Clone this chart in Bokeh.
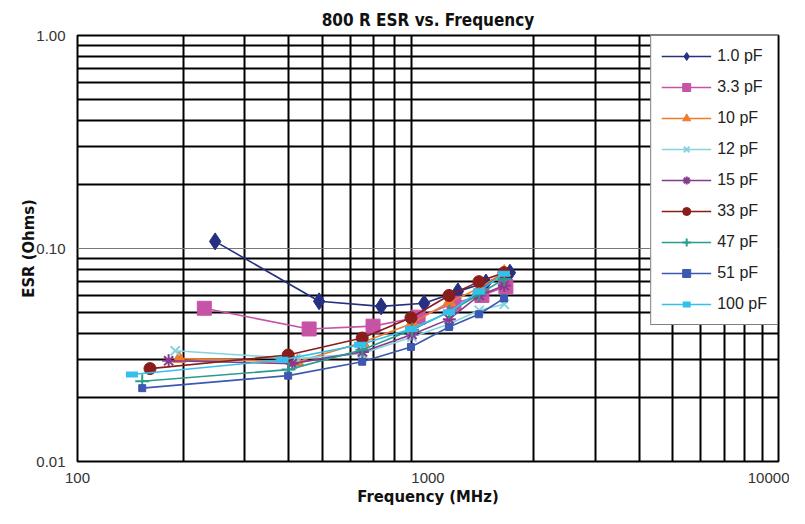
from bokeh.plotting import figure
from bokeh.models import FixedTicker, PrintfTickFormatter, Legend, LegendItem, Range1d
from bokeh.embed import file_html
from bokeh.resources import INLINE

# ---- data ----
series_names = ["1.0 pF", "3.3 pF", "10 pF", "12 pF", "15 pF", "33 pF", "47 pF", "51 pF", "100 pF"]

freq_1p0 = [247, 489, 735, 975, 1217, 1463, 1713]
esr_1p0 = [0.108, 0.0565, 0.0535, 0.0553, 0.0629, 0.0692, 0.0770]

freq_3p3 = [230, 458, 697, 937, 1186, 1425, 1668]
esr_3p3 = [0.0524, 0.0419, 0.0432, 0.0476, 0.0553, 0.0602, 0.0663]

freq_10 = [195, 424, 650, 900, 1150, 1400, 1650]
esr_10 = [0.0304, 0.0294, 0.0362, 0.0445, 0.0560, 0.0650, 0.0775]

freq_12 = [190, 420, 650, 900, 1150, 1400, 1650]
esr_12 = [0.0331, 0.0304, 0.0321, 0.0384, 0.0442, 0.0513, 0.0547]

freq_15 = [182, 410, 650, 900, 1150, 1400, 1650]
esr_15 = [0.0297, 0.0288, 0.0327, 0.0395, 0.0466, 0.0602, 0.0670]

freq_33 = [161, 399, 649, 894, 1148, 1397, 1647]
esr_33 = [0.0273, 0.0316, 0.0380, 0.0473, 0.0602, 0.0699, 0.0770]

freq_47 = [153, 400, 650, 900, 1150, 1400, 1650]
esr_47 = [0.0238, 0.0270, 0.0335, 0.0415, 0.0505, 0.0610, 0.0720]

freq_51 = [153, 399, 649, 894, 1148, 1397, 1647]
esr_51 = [0.0221, 0.0253, 0.0294, 0.0345, 0.0428, 0.0491, 0.0583]

freq_100 = [143, 384, 640, 894, 1148, 1397, 1647]
esr_100 = [0.0256, 0.0300, 0.0353, 0.0419, 0.0502, 0.0629, 0.0762]

x_tick_labels = [100, 1000, 10000]
y_tick_labels = [0.01, 0.10, 1.00]

# ---- styling ----
colors = ["#262f80", "#c653a6", "#f07a2e", "#86d3e0", "#873b8c",
          "#8a1c1c", "#2a9c8c", "#3c58b0", "#34c0ec"]
markers = ["diamond", "square", "triangle", "x", "asterisk",
           "circle", "cross", "square", "dash"]
sizes = [17, 14, 13, 13, 13, 12, 14, 7, 12]

freqs = [freq_1p0, freq_3p3, freq_10, freq_12, freq_15, freq_33, freq_47, freq_51, freq_100]
esrs = [esr_1p0, esr_3p3, esr_10, esr_12, esr_15, esr_33, esr_47, esr_51, esr_100]

COND = "'DejaVu Sans Condensed', 'Liberation Sans', sans-serif"
REG = "'Liberation Sans', Arial, sans-serif"

p = figure(width=789, height=508, x_axis_type="log", y_axis_type="log",
           x_range=Range1d(100, 10000), y_range=Range1d(0.01, 1.0),
           output_backend="svg", toolbar_location=None,
           min_border_left=77, min_border_right=11, min_border_top=35, min_border_bottom=40,
           title="800 R ESR vs. Frequency")

p.title.align = "center"
p.title.text_font = COND
p.title.text_font_size = "17px"
p.title.text_font_style = "bold"
p.title.text_color = "#111111"
p.title.standoff = 12
p.title.offset = 0

minor_x = [m * 10 ** k for k in (2, 3) for m in range(2, 10)]
minor_y = [m * 10.0 ** k for k in (-2, -1) for m in range(2, 10)]

p.xaxis.ticker = FixedTicker(ticks=x_tick_labels, minor_ticks=minor_x)
p.yaxis.ticker = FixedTicker(ticks=y_tick_labels, minor_ticks=minor_y)
p.xaxis.formatter = PrintfTickFormatter(format="%d")
p.yaxis.formatter = PrintfTickFormatter(format="%.2f")

for ax in (p.xaxis, p.yaxis):
    ax.axis_line_color = None
    ax.major_tick_line_color = None
    ax.minor_tick_line_color = None
    ax.major_label_text_font = REG
    ax.major_label_text_font_size = "15px"
    ax.major_label_text_color = "#333333"
    ax.axis_label_text_font = COND
    ax.axis_label_text_font_style = "bold"
    ax.axis_label_text_font_size = "16.5px"
    ax.axis_label_text_color = "#111111"

p.xaxis.axis_label = "Frequency (MHz)"
p.yaxis.axis_label = "ESR (Ohms)"
p.xaxis.major_label_standoff = 5
p.xaxis.axis_label_standoff = 1
p.yaxis.major_label_standoff = 6
p.yaxis.axis_label_standoff = -5

p.xgrid.grid_line_color = None
p.xgrid.minor_grid_line_color = "black"
p.xgrid.minor_grid_line_width = 2
p.ygrid.grid_line_color = "#777777"
p.ygrid.grid_line_width = 1
p.ygrid.minor_grid_line_color = "black"
p.ygrid.minor_grid_line_width = 2

p.outline_line_color = "black"
p.outline_line_width = 2
p.background_fill_color = "white"
p.border_fill_color = "white"

items = []
for name, f, e, c, m, s in zip(series_names, freqs, esrs, colors, markers, sizes):
    r_line = p.line(f, e, line_color=c, line_width=1.6)
    if m == "dash":
        r_pt = p.scatter(f, e, marker=m, size=s, line_color=c, line_width=6)
    elif m in ("x", "asterisk", "cross"):
        r_pt = p.scatter(f, e, marker=m, size=s, line_color=c, line_width=2)
    else:
        r_pt = p.scatter(f, e, marker=m, size=s, fill_color=c, line_color=c)
    items.append(LegendItem(label=name, renderers=[r_line, r_pt]))

legend = Legend(items=items, location="top_right")
legend.margin = 0
legend.padding = 10
legend.spacing = 11
legend.glyph_width = 50
legend.glyph_height = 20
legend.label_height = 20
legend.label_standoff = 6
legend.label_text_font = REG
legend.label_text_font_size = "16px"
legend.label_text_color = "#222222"
legend.border_line_color = "black"
legend.border_line_width = 1.5
legend.background_fill_color = "white"
legend.background_fill_alpha = 1.0
p.add_layout(legend, "center")

open("out.html", "w").write(file_html(p, INLINE))
